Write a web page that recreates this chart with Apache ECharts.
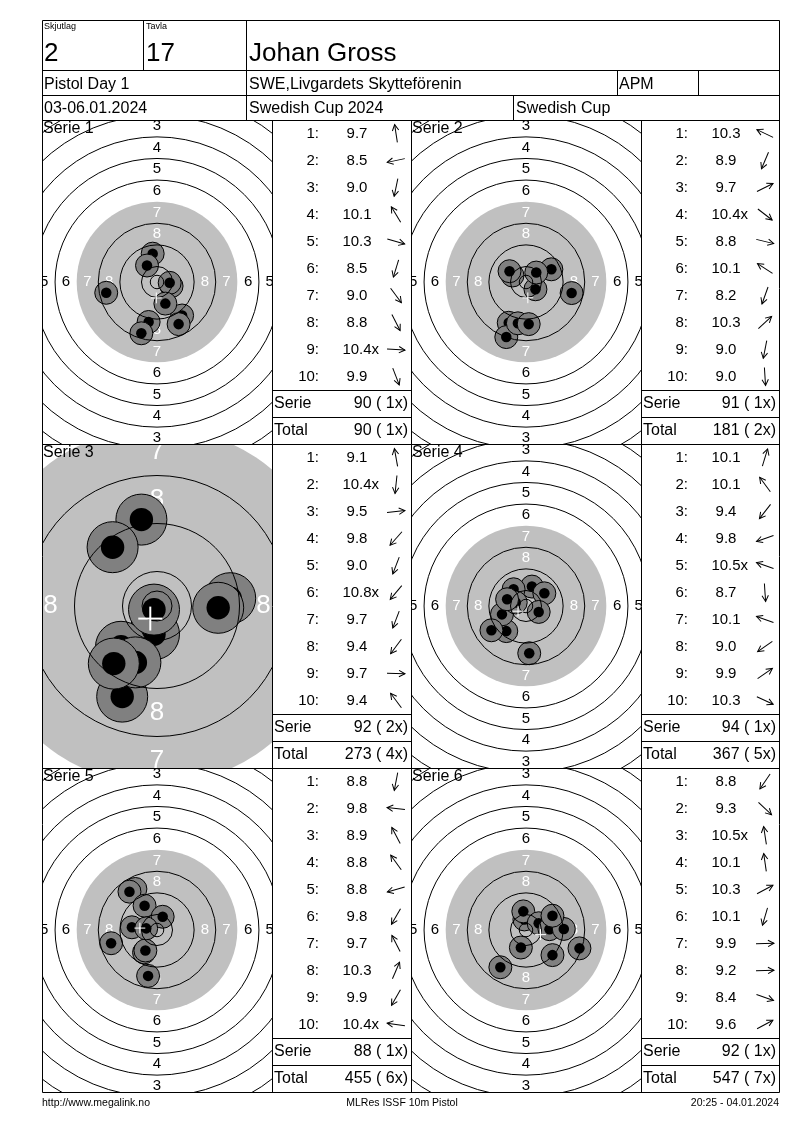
<!DOCTYPE html>
<html>
<head>
<meta charset="utf-8">
<script src="https://cdn.jsdelivr.net/npm/echarts@6.0.0/dist/echarts.min.js"></script>
<style>
html,body{margin:0;padding:0;background:#fff;}
#c{width:800px;height:1130px;}
</style>
</head>
<body>
<div id="c"></div>
<script>
// ---------------- DATA ----------------
const seriesNames = ['Serie 1', 'Serie 2', 'Serie 3', 'Serie 4', 'Serie 5', 'Serie 6'];
const shotLabels = ['1:', '2:', '3:', '4:', '5:', '6:', '7:', '8:', '9:', '10:'];

// decimal scores, inner-ten flags, shot positions in mm (x right, y up)
const serie1Scores = [9.7, 8.5, 9.0, 10.1, 10.3, 8.5, 9.0, 8.8, 10.4, 9.9];
const serie1Inner  = [0, 0, 0, 0, 0, 0, 0, 0, 1, 0];
const serie1X = [-1.6, -18.8, -3.1, -3.7, 5.4, -5.8, 9.3, 8.0, 4.7, 3.1];
const serie1Y = [10.5, -4.0, -14.8, 6.1, -1.5, -19.0, -12.4, -15.6, -0.3, -8.0];

const serie2Scores = [10.3, 8.9, 9.7, 10.4, 8.8, 10.1, 8.2, 10.3, 9.0, 9.0];
const serie2Inner  = [0, 0, 0, 1, 0, 0, 0, 0, 0, 0];
const serie2X = [-5.0, -6.4, 9.4, 3.5, 16.9, -6.1, -7.3, 3.8, -3.0, 1.0];
const serie2Y = [2.4, -15.1, 4.7, -2.7, -4.1, 4.0, -20.4, 3.5, -15.3, -15.6];

const serie3Scores = [9.1, 10.4, 9.5, 9.8, 9.0, 10.8, 9.7, 9.4, 9.7, 9.4];
const serie3Inner  = [0, 1, 0, 0, 0, 1, 0, 0, 0, 0];
const serie3X = [-2.6, -0.5, 12.2, -6.0, -5.8, -0.5, -3.6, -7.2, 10.2, -7.4];
const serie3Y = [14.4, -4.7, 1.3, -6.8, -15.1, -0.6, -9.4, -9.6, -0.3, 9.8];

const serie4Scores = [10.1, 10.1, 9.4, 9.8, 10.5, 8.7, 10.1, 9.0, 9.9, 10.3];
const serie4Inner  = [0, 0, 0, 0, 1, 0, 0, 0, 0, 0];
const serie4X = [2.2, -4.6, -7.3, -8.9, -3.8, 1.2, -7.0, -12.8, 6.8, 4.7];
const serie4Y = [7.2, 6.2, -9.3, -3.1, 1.3, -17.5, 2.5, -9.0, 4.7, -2.2];

const serie5Scores = [8.8, 9.8, 8.9, 8.8, 8.8, 9.8, 9.7, 10.3, 9.9, 10.4];
const serie5Inner  = [0, 0, 0, 0, 0, 0, 0, 0, 0, 1];
const serie5X = [-3.3, -9.3, -8.0, -10.2, -17.0, -4.8, -4.6, 2.1, -4.3, -4.0];
const serie5Y = [-17.0, 1.0, 15.2, 14.2, -4.9, -8.3, 9.0, 4.9, -7.6, 0.6];

const serie6Scores = [8.8, 9.3, 10.5, 10.1, 10.3, 10.1, 9.9, 9.2, 8.4, 9.6];
const serie6Inner  = [0, 0, 1, 0, 0, 0, 0, 0, 0, 0];
const serie6X = [-9.5, 9.8, -0.6, -1.0, 4.7, -1.9, 8.7, 14.0, 19.8, 9.8];
const serie6Y = [-13.8, -9.3, 3.9, 6.9, 2.5, -6.5, 0.3, 0.4, -6.8, 5.3];

// target geometry (mm)
const ringNumbers = [1, 2, 3, 4, 5, 6, 7, 8, 9, 10];
const ringRadii   = [77.75, 69.75, 61.75, 53.75, 45.75, 37.75, 29.75, 21.75, 13.75, 5.75];
const innerTenRadius = 2.5;
const blackRingNumber = 7;
const labelRingNumbers = [3, 4, 5, 6, 7, 8];

// header texts
const headerSquadLabel = 'Skjutlag';
const headerSquad = '2';
const headerLaneLabel = 'Tavla';
const headerLane = '17';
const shooterName = 'Johan Gross';
const eventName = 'Pistol Day 1';
const clubName = 'SWE,Livgardets Skytteförenin';
const classCode = 'APM';
const dateText = '03-06.01.2024';
const competitionName = 'Swedish Cup 2024';
const cupName = 'Swedish Cup';
const footerLeft = 'http://www.megalink.no';
const footerCenter = 'MLRes ISSF 10m Pistol';
const footerRight = '20:25 - 04.01.2024';

// ---------------- LAYOUT / STYLE ----------------
const FF = '"Liberation Sans", Arial, Helvetica, sans-serif';
const BOX = {left: 42, right: 779, top: 20, bottom: 1092};
const HDR = {r1: 70, r2: 95, r3: 120};
const ROWS = [120, 444, 768, 1092];
const TARGET_LEFT = [42, 411];
const TABLE_LEFT = [272, 641];
const TABLE_RIGHT = [411, 779];
const SHOT_ROW_H = 27;
const targetScale = [2.7, 2.7, 6.0, 2.7, 2.7, 2.7];   // px per mm (Serie 3 is a zoomed view)
const ringLabelFont = [15, 15, 26, 15, 15, 15];
const GREY = '#c0c0c0';
const SHOT_GREY = '#808080';
const SHOT_OUTER = 4.25, SHOT_INNER = 1.95, CROSS_HALF = 2.0;

const SERIES = [
  {scores: serie1Scores, inner: serie1Inner, xs: serie1X, ys: serie1Y},
  {scores: serie2Scores, inner: serie2Inner, xs: serie2X, ys: serie2Y},
  {scores: serie3Scores, inner: serie3Inner, xs: serie3X, ys: serie3Y},
  {scores: serie4Scores, inner: serie4Inner, xs: serie4X, ys: serie4Y},
  {scores: serie5Scores, inner: serie5Inner, xs: serie5X, ys: serie5Y},
  {scores: serie6Scores, inner: serie6Inner, xs: serie6X, ys: serie6Y}
];

const mctx = document.createElement('canvas').getContext('2d');
function textWidth(t, font) { mctx.font = font; return mctx.measureText(t).width; }
function ringRadius(n) { return ringRadii[ringNumbers.indexOf(n)]; }

function txt(text, x, y, size, align, vAlign, fill) {
  return {type: 'text', x: x, y: y, z: 100, silent: true,
    style: {text: text, font: size + 'px ' + FF, fill: fill || '#000',
      align: align || 'left', verticalAlign: vAlign || 'middle',
      textAlign: align || 'left', textVerticalAlign: vAlign || 'middle'}};
}
function hline(x1, x2, y) {
  return {type: 'line', z: 100, silent: true, shape: {x1: x1, y1: y + 0.5, x2: x2 + 1, y2: y + 0.5}, style: {stroke: '#000', lineWidth: 1}};
}
function vline(x, y1, y2) {
  return {type: 'line', z: 100, silent: true, shape: {x1: x + 0.5, y1: y1, x2: x + 0.5, y2: y2 + 1}, style: {stroke: '#000', lineWidth: 1}};
}

const grids = [], xAxes = [], yAxes = [], series = [], graphics = [];
let cumSum = 0, cumX = 0;

SERIES.forEach(function (d, i) {
  const col = i % 2, row = Math.floor(i / 2);
  const tx = TARGET_LEFT[col], ty = ROWS[row];
  const tw = TABLE_LEFT[col] - tx, th = ROWS[row + 1] - ty;
  const sc = targetScale[i];
  const halfW = tw / 2 / sc, halfH = th / 2 / sc;
  const gT = grids.length;
  grids.push({left: tx, top: ty, width: tw, height: th});
  xAxes.push({type: 'value', gridIndex: gT, min: -halfW, max: halfW, show: false});
  yAxes.push({type: 'value', gridIndex: gT, min: -halfH, max: halfH, show: false});

  // table grid (shot rows)
  const gL = grids.length;
  grids.push({left: TABLE_LEFT[col], top: ty, width: TABLE_RIGHT[col] - TABLE_LEFT[col], height: SHOT_ROW_H * shotLabels.length});
  xAxes.push({type: 'value', gridIndex: gL, min: 0, max: 1, show: false});
  yAxes.push({type: 'category', gridIndex: gL, data: shotLabels, inverse: true, show: false});

  const labelFont = ringLabelFont[i] + 'px ' + FF;

  // background: black area (grey) + ring numbers
  series.push({
    type: 'custom', xAxisIndex: gT, yAxisIndex: gT, clip: true, z: 1, silent: true,
    data: [[0, 0]],
    renderItem: function (params, api) {
      const c = api.coord([0, 0]);
      const k = api.size([1, 1])[0];
      const ch = [{type: 'circle', shape: {cx: c[0], cy: c[1], r: ringRadius(blackRingNumber) * k}, style: {fill: GREY}}];
      labelRingNumbers.forEach(function (n) {
        const rr = (ringRadius(n) + ringRadius(n + 1)) / 2 * k;
        const fill = n >= blackRingNumber ? '#fff' : '#000';
        [[0, -rr], [0, rr], [-rr, 0], [rr, 0]].forEach(function (o) {
          ch.push({type: 'text', x: c[0] + o[0], y: c[1] + o[1],
            style: {text: String(n), font: labelFont, fill: fill, align: 'center', verticalAlign: 'middle', textAlign: 'center', textVerticalAlign: 'middle'}});
        });
      });
      return {type: 'group', children: ch};
    }
  });

  // shots
  series.push({
    type: 'custom', xAxisIndex: gT, yAxisIndex: gT, clip: true, z: 2, silent: true,
    data: d.xs.map(function (x, k) { return [x, d.ys[k]]; }),
    renderItem: function (params, api) {
      const c = api.coord([api.value(0), api.value(1)]);
      const k = api.size([1, 1])[0];
      return {type: 'group', children: [
        {type: 'circle', shape: {cx: c[0], cy: c[1], r: SHOT_OUTER * k}, style: {fill: SHOT_GREY, stroke: '#000', lineWidth: 1}},
        {type: 'circle', shape: {cx: c[0], cy: c[1], r: SHOT_INNER * k}, style: {fill: '#000'}}
      ]};
    }
  });

  // ring lines (drawn above shots)
  const ringData = ringNumbers.filter(function (n) { return n !== blackRingNumber; })
    .map(function (n) { return [0, 0, ringRadius(n)]; });
  ringData.push([0, 0, innerTenRadius]);
  series.push({
    type: 'custom', xAxisIndex: gT, yAxisIndex: gT, clip: true, z: 3, silent: true,
    data: ringData,
    renderItem: function (params, api) {
      const c = api.coord([0, 0]);
      const r = api.size([api.value(2), api.value(2)])[0];
      return {type: 'circle', shape: {cx: c[0], cy: c[1], r: r}, style: {fill: null, stroke: '#000', lineWidth: 1}};
    }
  });

  // group centre cross
  const mx = d.xs.reduce(function (a, b) { return a + b; }, 0) / d.xs.length;
  const my = d.ys.reduce(function (a, b) { return a + b; }, 0) / d.ys.length;
  const crossW = sc > 3 ? 2 : 1;
  series.push({
    type: 'custom', xAxisIndex: gT, yAxisIndex: gT, clip: true, z: 4, silent: true,
    data: [[mx, my]],
    renderItem: function (params, api) {
      const c = api.coord([api.value(0), api.value(1)]);
      const h = CROSS_HALF * api.size([1, 1])[0];
      return {type: 'group', children: [
        {type: 'line', shape: {x1: c[0] - h, y1: c[1], x2: c[0] + h, y2: c[1]}, style: {stroke: '#fff', lineWidth: crossW}},
        {type: 'line', shape: {x1: c[0], y1: c[1] - h, x2: c[0], y2: c[1] + h}, style: {stroke: '#fff', lineWidth: crossW}}
      ]};
    }
  });

  // shot list table
  const listFont = '15px ' + FF;
  series.push({
    type: 'custom', xAxisIndex: gL, yAxisIndex: gL, z: 5, silent: true,
    data: d.scores.map(function (s, k) { return [0, k]; }),
    renderItem: function (params, api) {
      const k = params.dataIndex;
      const p = api.coord([0, k]);
      const x0 = p[0], y0 = p[1];
      const sTxt = d.scores[k].toFixed(1);
      const ch = [
        {type: 'text', x: x0 + 47, y: y0, style: {text: shotLabels[k], font: listFont, fill: '#000', align: 'right', verticalAlign: 'middle', textAlign: 'right', textVerticalAlign: 'middle'}},
        {type: 'text', x: x0 + 85, y: y0, style: {text: sTxt, font: listFont, fill: '#000', align: 'center', verticalAlign: 'middle', textAlign: 'center', textVerticalAlign: 'middle'}}
      ];
      if (d.inner[k]) {
        ch.push({type: 'text', x: x0 + 85 + textWidth(sTxt, listFont) / 2, y: y0, style: {text: 'x', font: listFont, fill: '#000', align: 'left', verticalAlign: 'middle', textAlign: 'left', textVerticalAlign: 'middle'}});
      }
      const ang = Math.atan2(d.ys[k], d.xs[k]);
      ch.push({type: 'group', x: x0 + 124, y: y0, rotation: ang, children: [
        {type: 'line', shape: {x1: -9, y1: 0, x2: 9, y2: 0}, style: {stroke: '#000', lineWidth: 1}},
        {type: 'polyline', shape: {points: [[3, -3.2], [9, 0], [3, 3.2]]}, style: {stroke: '#000', fill: null, lineWidth: 1}}
      ]});
      return {type: 'group', children: ch};
    }
  });

  // summary
  const serieSum = d.scores.reduce(function (a, s) { return a + Math.floor(s + 1e-9); }, 0);
  const serieX = d.inner.reduce(function (a, b) { return a + b; }, 0);
  cumSum += serieSum; cumX += serieX;
  const fmt = function (v, x) { return v + ' (' + (x < 10 ? ' ' : '') + x + 'x)'; };
  const sy = ty + SHOT_ROW_H * shotLabels.length;
  graphics.push(hline(TABLE_LEFT[col], TABLE_RIGHT[col], sy));
  graphics.push(hline(TABLE_LEFT[col], TABLE_RIGHT[col], sy + SHOT_ROW_H));
  graphics.push(txt('Serie', TABLE_LEFT[col] + 2, sy + 14, 16, 'left'));
  graphics.push(txt(fmt(serieSum, serieX), TABLE_RIGHT[col] - 3, sy + 14, 16, 'right'));
  graphics.push(txt('Total', TABLE_LEFT[col] + 2, sy + SHOT_ROW_H + 14, 16, 'left'));
  graphics.push(txt(fmt(cumSum, cumX), TABLE_RIGHT[col] - 3, sy + SHOT_ROW_H + 14, 16, 'right'));
  // series title inside target
  graphics.push(txt(seriesNames[i], tx + 1, ty + 1, 16, 'left', 'top'));
});

// frame lines
graphics.push({type: 'rect', z: 100, silent: true, shape: {x: BOX.left + 0.5, y: BOX.top + 0.5, width: BOX.right - BOX.left, height: BOX.bottom - BOX.top}, style: {fill: null, stroke: '#000', lineWidth: 1}});
[HDR.r1, HDR.r2, HDR.r3, ROWS[1], ROWS[2]].forEach(function (y) { graphics.push(hline(BOX.left, BOX.right, y)); });
graphics.push(vline(143, BOX.top, HDR.r1));
graphics.push(vline(246, BOX.top, HDR.r3));
graphics.push(vline(617, HDR.r1, HDR.r2));
graphics.push(vline(698, HDR.r1, HDR.r2));
graphics.push(vline(513, HDR.r2, HDR.r3));
[TABLE_LEFT[0], TARGET_LEFT[1], TABLE_LEFT[1]].forEach(function (x) { graphics.push(vline(x, HDR.r3, BOX.bottom)); });

// header texts
graphics.push(txt(headerSquadLabel, 44, 27, 9, 'left'));
graphics.push(txt(headerLaneLabel, 146, 27, 9, 'left'));
graphics.push(txt(headerSquad, 44, 54, 26, 'left'));
graphics.push(txt(headerLane, 146, 54, 26, 'left'));
graphics.push(txt(shooterName, 249, 54, 26, 'left'));
graphics.push(txt(eventName, 44, 85, 16, 'left'));
graphics.push(txt(clubName, 249, 85, 16, 'left'));
graphics.push(txt(classCode, 619, 85, 16, 'left'));
graphics.push(txt(dateText, 44, 109, 16, 'left'));
graphics.push(txt(competitionName, 249, 109, 16, 'left'));
graphics.push(txt(cupName, 516, 109, 16, 'left'));
// footer
graphics.push(txt(footerLeft, 42, 1103, 10.5, 'left'));
graphics.push(txt(footerCenter, 402, 1103, 10.5, 'center'));
graphics.push(txt(footerRight, 779, 1103, 10.5, 'right'));

const chart = echarts.init(document.getElementById('c'), null, {renderer: 'canvas', width: 800, height: 1130});
chart.setOption({
  animation: false,
  backgroundColor: '#fff',
  grid: grids,
  xAxis: xAxes,
  yAxis: yAxes,
  series: series,
  graphic: {elements: graphics}
});
</script>
</body>
</html>
